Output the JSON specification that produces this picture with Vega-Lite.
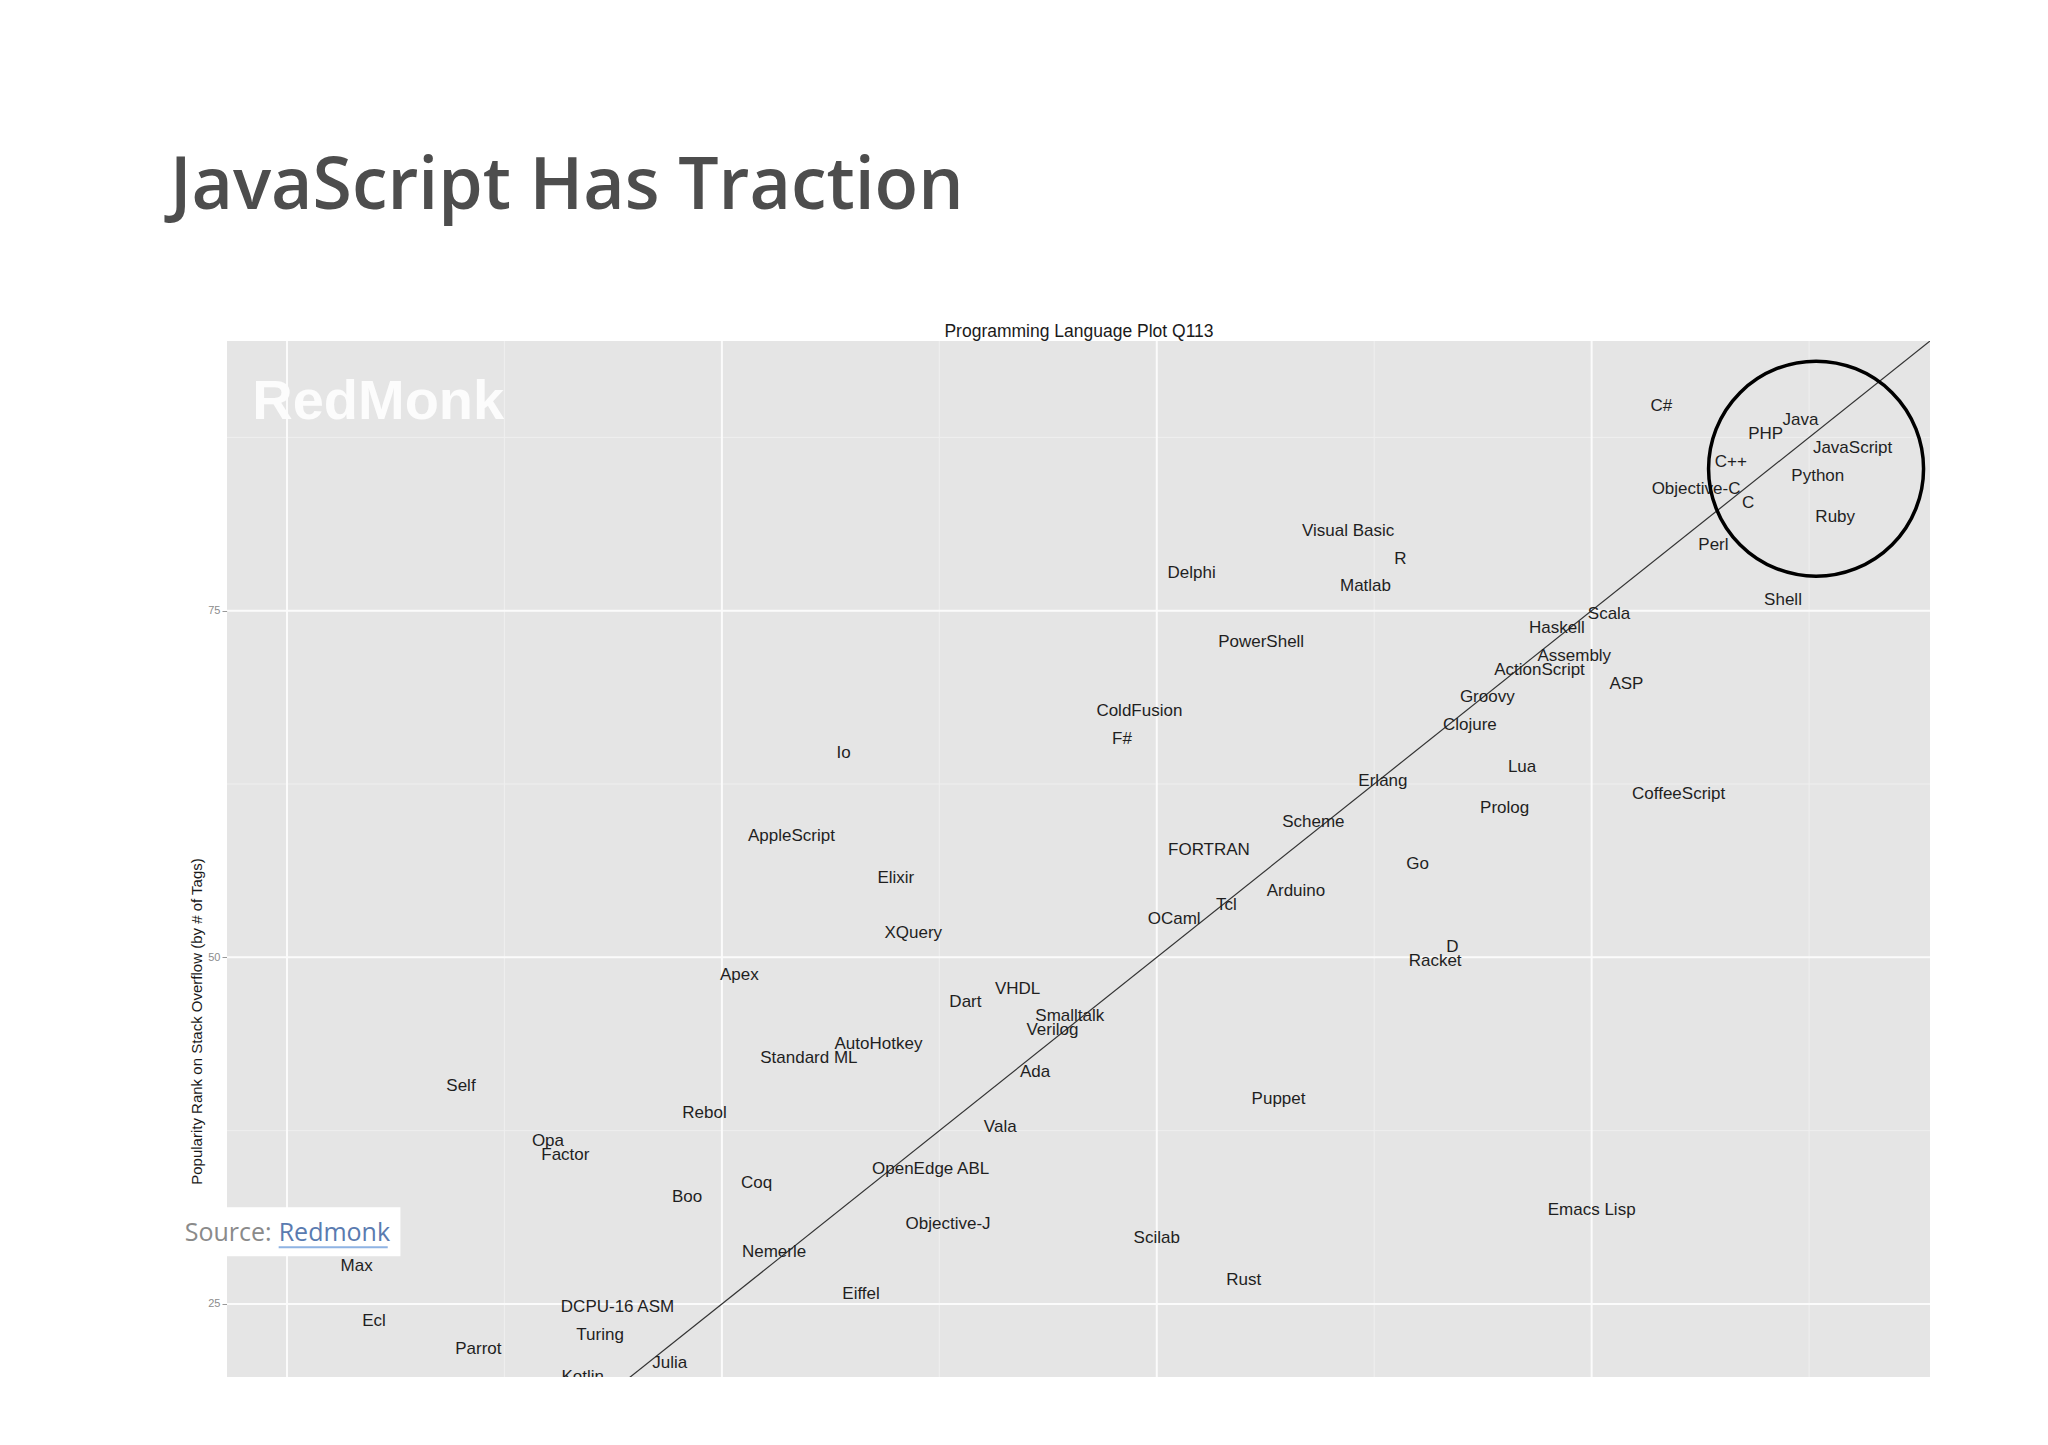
{
  "$schema": "https://vega.github.io/schema/vega-lite/v6.json",
  "width": 1703,
  "height": 1036,
  "autosize": {"type": "none"},
  "padding": {"left": 227, "top": 341, "right": 118, "bottom": 68},
  "background": "#ffffff",
  "title": {
    "text": "JavaScript Has Traction",
    "anchor": "start",
    "frame": "group",
    "font": "Open Sans",
    "fontSize": 71.5,
    "fontWeight": 600,
    "color": "#4d4d4d",
    "baseline": "alphabetic",
    "dx": -57,
    "offset": 42
  },
  "config": {
    "view": {"fill": "#e5e5e5", "stroke": null},
    "axis": {"labelFont": "Liberation Sans", "titleFont": "Liberation Sans"}
  },
  "datasets": {
    "langs": [
      {"lang": "C#", "x": 79, "y": 90},
      {"lang": "Java", "x": 87, "y": 89},
      {"lang": "PHP", "x": 85, "y": 88},
      {"lang": "JavaScript", "x": 90, "y": 87},
      {"lang": "C++", "x": 83, "y": 86},
      {"lang": "Python", "x": 88, "y": 85},
      {"lang": "Objective-C", "x": 81, "y": 84},
      {"lang": "C", "x": 84, "y": 83},
      {"lang": "Ruby", "x": 89, "y": 82},
      {"lang": "Visual Basic", "x": 61, "y": 81},
      {"lang": "Perl", "x": 82, "y": 80},
      {"lang": "R", "x": 64, "y": 79},
      {"lang": "Delphi", "x": 52, "y": 78},
      {"lang": "Matlab", "x": 62, "y": 77},
      {"lang": "Shell", "x": 86, "y": 76},
      {"lang": "Scala", "x": 76, "y": 75},
      {"lang": "Haskell", "x": 73, "y": 74},
      {"lang": "PowerShell", "x": 56, "y": 73},
      {"lang": "Assembly", "x": 74, "y": 72},
      {"lang": "ActionScript", "x": 72, "y": 71},
      {"lang": "ASP", "x": 77, "y": 70},
      {"lang": "Groovy", "x": 69, "y": 69},
      {"lang": "ColdFusion", "x": 49, "y": 68},
      {"lang": "Clojure", "x": 68, "y": 67},
      {"lang": "F#", "x": 48, "y": 66},
      {"lang": "Io", "x": 32, "y": 65},
      {"lang": "Lua", "x": 71, "y": 64},
      {"lang": "Erlang", "x": 63, "y": 63},
      {"lang": "CoffeeScript", "x": 80, "y": 62},
      {"lang": "Prolog", "x": 70, "y": 61},
      {"lang": "Scheme", "x": 59, "y": 60},
      {"lang": "AppleScript", "x": 29, "y": 59},
      {"lang": "FORTRAN", "x": 53, "y": 58},
      {"lang": "Go", "x": 65, "y": 57},
      {"lang": "Elixir", "x": 35, "y": 56},
      {"lang": "Arduino", "x": 58, "y": 55},
      {"lang": "Tcl", "x": 54, "y": 54},
      {"lang": "OCaml", "x": 51, "y": 53},
      {"lang": "XQuery", "x": 36, "y": 52},
      {"lang": "D", "x": 67, "y": 51},
      {"lang": "Racket", "x": 66, "y": 50},
      {"lang": "Apex", "x": 26, "y": 49},
      {"lang": "VHDL", "x": 42, "y": 48},
      {"lang": "Dart", "x": 39, "y": 47},
      {"lang": "Smalltalk", "x": 45, "y": 46},
      {"lang": "Verilog", "x": 44, "y": 45},
      {"lang": "AutoHotkey", "x": 34, "y": 44},
      {"lang": "Standard ML", "x": 30, "y": 43},
      {"lang": "Ada", "x": 43, "y": 42},
      {"lang": "Self", "x": 10, "y": 41},
      {"lang": "Puppet", "x": 57, "y": 40},
      {"lang": "Rebol", "x": 24, "y": 39},
      {"lang": "Vala", "x": 41, "y": 38},
      {"lang": "Opa", "x": 15, "y": 37},
      {"lang": "Factor", "x": 16, "y": 36},
      {"lang": "OpenEdge ABL", "x": 37, "y": 35},
      {"lang": "Coq", "x": 27, "y": 34},
      {"lang": "Boo", "x": 23, "y": 33},
      {"lang": "Emacs Lisp", "x": 75, "y": 32},
      {"lang": "Objective-J", "x": 38, "y": 31},
      {"lang": "Scilab", "x": 50, "y": 30},
      {"lang": "Nemerle", "x": 28, "y": 29},
      {"lang": "Max", "x": 4, "y": 28},
      {"lang": "Rust", "x": 55, "y": 27},
      {"lang": "Eiffel", "x": 33, "y": 26},
      {"lang": "DCPU-16 ASM", "x": 19, "y": 25},
      {"lang": "Ecl", "x": 5, "y": 24},
      {"lang": "Turing", "x": 18, "y": 23},
      {"lang": "Parrot", "x": 11, "y": 22},
      {"lang": "Julia", "x": 22, "y": 21},
      {"lang": "Kotlin", "x": 17, "y": 20}
    ],
    "minorX": [{"x": 12.5}, {"x": 37.5}, {"x": 62.5}, {"x": 87.5}],
    "minorY": [{"y": 37.5}, {"y": 62.5}, {"y": 87.5}],
    "majorX": [{"x": 0}, {"x": 25}, {"x": 50}, {"x": 75}],
    "majorY": [{"y": 25}, {"y": 50}, {"y": 75}],
    "diag": [{"x": -10, "y": -10}, {"x": 100, "y": 100}],
    "watermark": [{"x": -2, "y": 88.8, "label": "RedMonk"}],
    "circle": [{"x": 87.9, "y": 85.24}],
    "sourceBox": [{"x": -6.4, "x2": 6.52, "y": 31.97, "y2": 28.44}],
    "sourceText": [{"x": -5.88, "y": 29.54, "label": "Source:"}],
    "sourceLink": [{"x": -0.48, "y": 29.54, "label": "Redmonk"}],
    "sourceLine": [{"x": -0.48, "x2": 5.79, "y": 29.09}]
  },
  "layer": [
    {
      "data": {"name": "minorY"},
      "mark": {"type": "rule", "color": "#efefef", "strokeWidth": 1},
      "encoding": {
        "y": {
          "field": "y", "type": "quantitative",
          "scale": {"domain": [19.73, 94.45], "nice": false, "zero": false},
          "title": "Popularity Rank on Stack Overflow (by # of Tags)",
          "axis": {
            "values": [25, 50, 75],
            "grid": false,
            "domain": false,
            "tickColor": "#999999",
            "tickSize": 5,
            "tickWidth": 1,
            "labelFontSize": 11,
            "labelColor": "#8c8c8c",
            "labelPadding": 2,
            "titleFontSize": 15,
            "titleFontWeight": "normal",
            "titleColor": "#1a1a1a",
            "titleX": -31,
            "titleY": 680,
            "titleBaseline": "middle",
            "titleAlign": "center",
            "titleAngle": 270
          }
        }
      }
    },
    {
      "data": {"name": "minorX"},
      "mark": {"type": "rule", "color": "#efefef", "strokeWidth": 1},
      "encoding": {
        "x": {
          "field": "x", "type": "quantitative",
          "scale": {"domain": [-3.45, 94.45], "nice": false, "zero": false},
          "title": "Programming Language Plot Q113",
          "axis": {
            "orient": "top",
            "labels": false,
            "ticks": false,
            "domain": false,
            "grid": false,
            "titleFontSize": 17.5,
            "titleFontWeight": "normal",
            "titleColor": "#1a1a1a",
            "titlePadding": 0.5
          }
        }
      }
    },
    {
      "data": {"name": "majorX"},
      "mark": {"type": "rule", "color": "#fbfbfb", "strokeWidth": 2},
      "encoding": {
        "x": {"field": "x", "type": "quantitative", "title": "Programming Language Plot Q113"}
      }
    },
    {
      "data": {"name": "majorY"},
      "mark": {"type": "rule", "color": "#fbfbfb", "strokeWidth": 2},
      "encoding": {
        "y": {"field": "y", "type": "quantitative", "title": "Popularity Rank on Stack Overflow (by # of Tags)"}
      }
    },
    {
      "data": {"name": "watermark"},
      "mark": {"type": "text", "align": "left", "baseline": "alphabetic", "font": "Liberation Sans", "fontWeight": "bold", "fontSize": 56, "color": "#fcfcfc"},
      "encoding": {
        "x": {"field": "x", "type": "quantitative", "title": "Programming Language Plot Q113"},
        "y": {"field": "y", "type": "quantitative", "title": "Popularity Rank on Stack Overflow (by # of Tags)"},
        "text": {"field": "label"}
      }
    },
    {
      "data": {"name": "diag"},
      "mark": {"type": "line", "clip": true, "color": "#333333", "strokeWidth": 1.2},
      "encoding": {
        "x": {"field": "x", "type": "quantitative", "title": "Programming Language Plot Q113"},
        "y": {"field": "y", "type": "quantitative", "title": "Popularity Rank on Stack Overflow (by # of Tags)"}
      }
    },
    {
      "data": {"name": "langs"},
      "mark": {"type": "text", "clip": true, "align": "center", "baseline": "middle", "dy": 3.5, "font": "Liberation Sans", "fontSize": 17, "color": "#1f1f1f"},
      "encoding": {
        "x": {"field": "x", "type": "quantitative", "title": "Programming Language Plot Q113"},
        "y": {"field": "y", "type": "quantitative", "title": "Popularity Rank on Stack Overflow (by # of Tags)"},
        "text": {"field": "lang"}
      }
    },
    {
      "data": {"name": "circle"},
      "mark": {"type": "point", "shape": "circle", "filled": false, "size": 46225, "stroke": "#000000", "strokeWidth": 3.5, "opacity": 1},
      "encoding": {
        "x": {"field": "x", "type": "quantitative", "title": "Programming Language Plot Q113"},
        "y": {"field": "y", "type": "quantitative", "title": "Popularity Rank on Stack Overflow (by # of Tags)"}
      }
    },
    {
      "data": {"name": "sourceBox"},
      "mark": {"type": "rect", "color": "#ffffff"},
      "encoding": {
        "x": {"field": "x", "type": "quantitative", "title": "Programming Language Plot Q113"},
        "x2": {"field": "x2"},
        "y": {"field": "y", "type": "quantitative", "title": "Popularity Rank on Stack Overflow (by # of Tags)"},
        "y2": {"field": "y2"}
      }
    },
    {
      "data": {"name": "sourceText"},
      "mark": {"type": "text", "align": "left", "baseline": "alphabetic", "font": "Open Sans", "fontSize": 25, "color": "#8a8a8a"},
      "encoding": {
        "x": {"field": "x", "type": "quantitative", "title": "Programming Language Plot Q113"},
        "y": {"field": "y", "type": "quantitative", "title": "Popularity Rank on Stack Overflow (by # of Tags)"},
        "text": {"field": "label"}
      }
    },
    {
      "data": {"name": "sourceLink"},
      "mark": {"type": "text", "align": "left", "baseline": "alphabetic", "font": "Open Sans", "fontSize": 25, "color": "#5a7bb0"},
      "encoding": {
        "x": {"field": "x", "type": "quantitative", "title": "Programming Language Plot Q113"},
        "y": {"field": "y", "type": "quantitative", "title": "Popularity Rank on Stack Overflow (by # of Tags)"},
        "text": {"field": "label"}
      }
    },
    {
      "data": {"name": "sourceLine"},
      "mark": {"type": "rule", "color": "#8fb3e3", "strokeWidth": 2},
      "encoding": {
        "x": {"field": "x", "type": "quantitative", "title": "Programming Language Plot Q113"},
        "x2": {"field": "x2"},
        "y": {"field": "y", "type": "quantitative", "title": "Popularity Rank on Stack Overflow (by # of Tags)"}
      }
    }
  ]
}
